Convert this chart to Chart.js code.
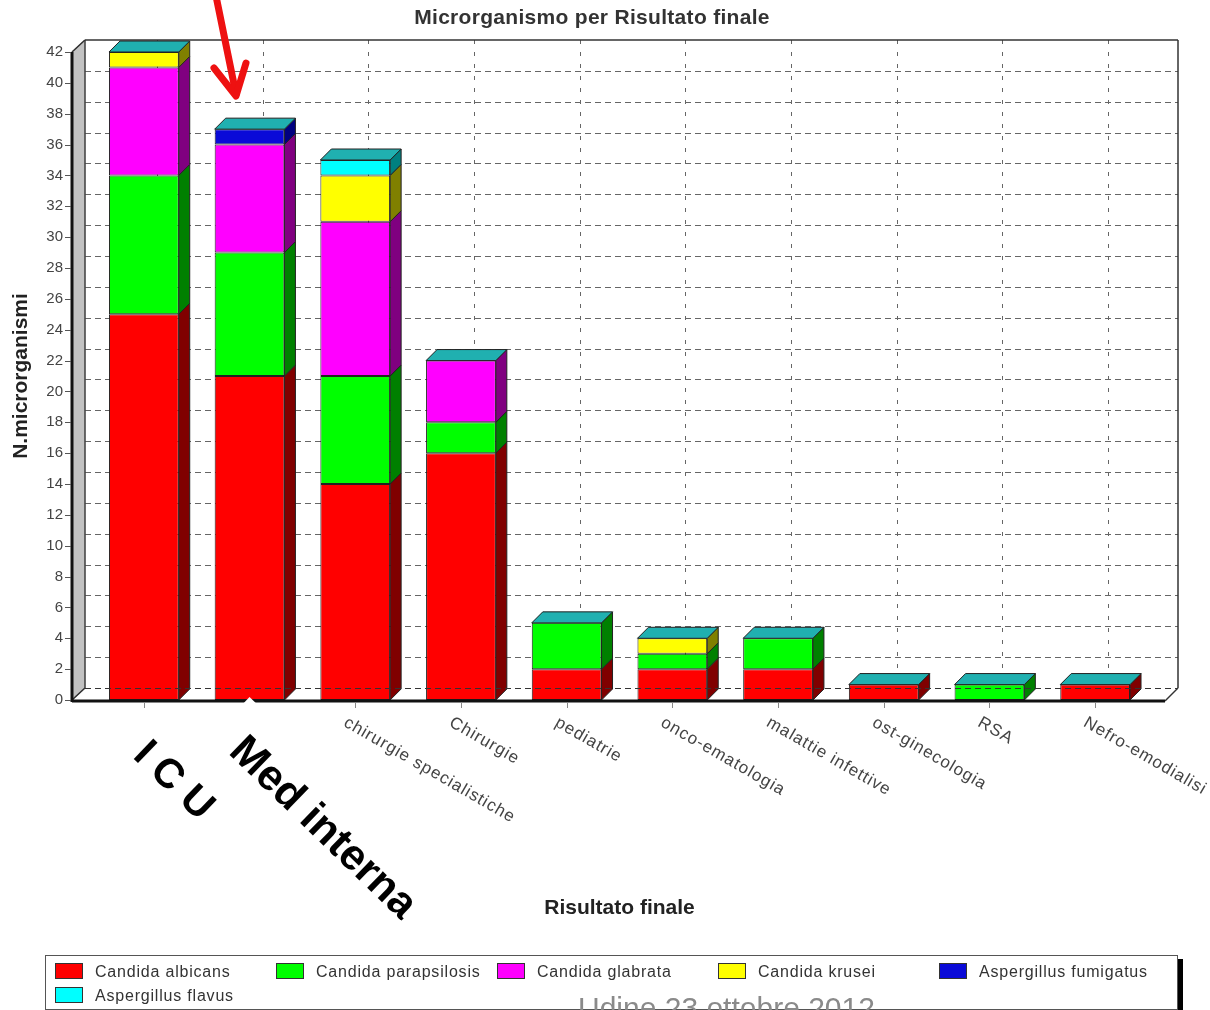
<!DOCTYPE html>
<html>
<head>
<meta charset="utf-8">
<script src="https://cdn.jsdelivr.net/npm/chart.js@4.4.0/dist/chart.umd.min.js"></script>
<style>
  html, body { margin: 0; padding: 0; background: #fff; }
  #wrap { position: relative; width: 1210px; height: 1010px; }
</style>
</head>
<body>
<div id="wrap"><canvas id="myChart"></canvas></div>
<script>
'use strict';

// dati
var reparti = ['I C U', 'Med interna', 'chirurgie specialistiche', 'Chirurgie', 'pediatrie',
  'onco-ematologia', 'malattie infettive', 'ost-ginecologia', 'RSA', 'Nefro-emodialisi'];
var candidaAlbicans      = [25, 21, 14, 16, 2, 2, 2, 1, 0, 1];
var candidaParapsilosis  = [9, 8, 7, 2, 3, 1, 2, 0, 1, 0];
var candidaGlabrata      = [7, 7, 10, 4, 0, 0, 0, 0, 0, 0];
var candidaKrusei        = [1, 0, 3, 0, 0, 1, 0, 0, 0, 0];
var aspergillusFumigatus = [0, 1, 0, 0, 0, 0, 0, 0, 0, 0];
var aspergillusFlavus    = [0, 0, 1, 0, 0, 0, 0, 0, 0, 0];
var serie = ['Candida albicans', 'Candida parapsilosis', 'Candida glabrata',
  'Candida krusei', 'Aspergillus fumigatus', 'Aspergillus flavus'];
var yMax = 42;
var yStep = 2;

var valori = [candidaAlbicans, candidaParapsilosis, candidaGlabrata,
  candidaKrusei, aspergillusFumigatus, aspergillusFlavus];
var colori = ['#ff0000', '#00ff00', '#ff00ff', '#ffff00', '#0a0ad8', '#00ffff'];
var lati   = ['#800000', '#008000', '#800080', '#808000', '#000080', '#008080'];
var coloreTop = '#20b0b0';

var FONT = "'Liberation Sans', Arial, sans-serif";
Chart.defaults.font.family = FONT;

var DX = 11, DY = 11;   // profondita barre
var WX = 13, WY = 12;   // profondita pareti

function poly(ctx, pts) {
  ctx.beginPath();
  ctx.moveTo(pts[0][0], pts[0][1]);
  for (var i = 1; i < pts.length; i++) ctx.lineTo(pts[i][0], pts[i][1]);
  ctx.closePath();
}

function line(ctx, x1, y1, x2, y2) {
  ctx.beginPath();
  ctx.moveTo(x1, y1);
  ctx.lineTo(x2, y2);
  ctx.stroke();
}

var scena3d = {
  id: 'scena3d',
  beforeDatasetsDraw: function(chart) {
    var ctx = chart.ctx, ca = chart.chartArea;
    var xs = chart.scales.x, ys = chart.scales.y;
    var L = ca.left - 19, R = ca.right + 17, T = ca.top, B = ca.bottom;
    ctx.save();

    // parete sinistra
    ctx.fillStyle = '#c2c2c2';
    poly(ctx, [[L, B], [L, T], [L + WX, T - WY], [L + WX, B - WY]]);
    ctx.fill();
    ctx.strokeStyle = '#555';
    ctx.lineWidth = 1;
    ctx.stroke();

    // griglia tratteggiata sulla parete di fondo
    ctx.strokeStyle = '#666';
    ctx.setLineDash([6, 4]);
    ys.ticks.forEach(function(t) {
      if (t.value === ys.max) return;
      var py = Math.round(ys.getPixelForValue(t.value) - WY) + 0.5;
      line(ctx, L + WX, py, R + WX, py);
    });
    ctx.setLineDash([4, 8]);
    reparti.forEach(function(r, i) {
      var px = Math.round(xs.getPixelForValue(i) + WX) + 0.5;
      line(ctx, px, T - WY, px, B - WY);
    });
    ctx.setLineDash([]);

    // bordo del fondo
    ctx.strokeStyle = '#333';
    ctx.lineWidth = 1.5;
    line(ctx, L + WX, T - WY, R + WX, T - WY);
    line(ctx, R + WX, T - WY, R + WX, B - WY);
    line(ctx, L, T, L + WX, T - WY);
    ctx.lineWidth = 1;
    line(ctx, L + WX, T - WY, L + WX, B - WY);
    ctx.restore();
  },
  afterDatasetsDraw: function(chart) {
    var ctx = chart.ctx, ca = chart.chartArea;
    var xs = chart.scales.x, ys = chart.scales.y;
    var L = ca.left - 19, R = ca.right + 17, T = ca.top, B = ca.bottom;
    ctx.save();
    ctx.lineWidth = 1;
    ctx.strokeStyle = '#222';

    // facce laterali
    chart.data.datasets.forEach(function(ds, di) {
      var meta = chart.getDatasetMeta(di);
      meta.data.forEach(function(el, i) {
        if (ds.data[i] == null) return;
        var p = el.getProps(['x', 'y', 'base', 'width'], true);
        var xr = p.x + p.width / 2;
        ctx.fillStyle = lati[di];
        poly(ctx, [[xr, p.y], [xr + DX, p.y - DY], [xr + DX, p.base - DY], [xr, p.base]]);
        ctx.fill();
        ctx.stroke();
      });
    });

    // facce superiori
    var w = chart.getDatasetMeta(0).data[0].width;
    reparti.forEach(function(r, i) {
      var tot = 0;
      valori.forEach(function(v) { tot += v[i]; });
      var yt = ys.getPixelForValue(tot);
      var xl = xs.getPixelForValue(i) - w / 2, xr = xl + w;
      ctx.fillStyle = coloreTop;
      poly(ctx, [[xl, yt], [xl + DX, yt - DY], [xr + DX, yt - DY], [xr, yt]]);
      ctx.fill();
      ctx.stroke();
    });

    // pavimento e assi frontali
    ctx.strokeStyle = '#333';
    ctx.setLineDash([6, 4]);
    line(ctx, L + WX, B - WY + 0.5, R + WX, B - WY + 0.5);
    ctx.setLineDash([]);
    ctx.lineWidth = 1.5;
    line(ctx, L, B, L + WX, B - WY);
    line(ctx, R, B + 1, R + WX, B - WY);
    ctx.strokeStyle = '#111';
    ctx.lineWidth = 3;
    line(ctx, L, T, L, B + 2);
    line(ctx, L, B + 1, R, B + 1);

    // tacche
    ctx.lineWidth = 1;
    ctx.strokeStyle = '#555';
    ys.ticks.forEach(function(t) {
      var py = Math.round(ys.getPixelForValue(t.value)) + 0.5;
      line(ctx, L - 7, py, L - 1, py);
    });
    ctx.strokeStyle = '#888';
    reparti.forEach(function(r, i) {
      var px = Math.round(xs.getPixelForValue(i)) + 0.5;
      line(ctx, px, B + 3, px, B + 8);
    });
    ctx.restore();
  },
  afterDraw: function(chart) {
    var ctx = chart.ctx, ca = chart.chartArea;
    var xs = chart.scales.x, B = ca.bottom;
    ctx.save();

    // titolo
    ctx.fillStyle = '#333';
    ctx.font = 'bold 21px ' + FONT;
    ctx.textAlign = 'center';
    ctx.textBaseline = 'middle';
    ctx.letterSpacing = '0.3px';
    ctx.fillText('Microrganismo per Risultato finale', 592, 18);

    // etichette categorie
    ctx.letterSpacing = '1px';
    ctx.font = '17px ' + FONT;
    ctx.fillStyle = '#444';
    ctx.textAlign = 'left';
    ctx.textBaseline = 'top';
    reparti.forEach(function(r, i) {
      if (i < 2) return;
      var px = xs.getPixelForValue(i);
      ctx.save();
      ctx.translate(px - 6, B + 14);
      ctx.rotate(30 * Math.PI / 180);
      ctx.fillText(r, 0, 0);
      ctx.restore();
    });

    // etichette grandi sovrapposte (ICU, Med interna)
    var ang = 44 * Math.PI / 180;
    var xMed = xs.getPixelForValue(1);
    ctx.save();
    ctx.translate(xMed, B - 3);
    ctx.rotate(ang);
    ctx.fillStyle = '#fff';
    ctx.fillRect(0, 0, 290, 75);
    ctx.restore();

    ctx.letterSpacing = '0px';
    ctx.fillStyle = '#000';
    ctx.textBaseline = 'alphabetic';
    ctx.font = 'bold 41px ' + FONT;
    ctx.save();
    ctx.translate(xs.getPixelForValue(0) - 12, B + 57);
    ctx.rotate(ang);
    ctx.fillText(reparti[0], 0, 0);
    ctx.restore();
    ctx.font = 'bold 43px ' + FONT;
    ctx.save();
    ctx.translate(xMed - 22, B + 53);
    ctx.rotate(ang);
    ctx.fillText(reparti[1], 0, 0);
    ctx.restore();

    // legenda
    ctx.strokeStyle = '#555';
    ctx.lineWidth = 1;
    ctx.strokeRect(45.5, 955.5, 1132, 54);
    ctx.fillStyle = '#000';
    ctx.fillRect(1178, 959, 5, 51);
    ctx.font = '16px ' + FONT;
    ctx.letterSpacing = '0.8px';
    serie.forEach(function(s, i) {
      var col = i % 5, row = Math.floor(i / 5);
      var sx = 55 + col * 221, sy = 963 + row * 24;
      ctx.fillStyle = colori[i];
      ctx.fillRect(sx, sy, 27, 15);
      ctx.strokeStyle = '#333';
      ctx.strokeRect(sx + 0.5, sy + 0.5, 27, 15);
      ctx.fillStyle = '#333';
      ctx.fillText(s, sx + 40, sy + 14);
    });

    // freccia rossa
    ctx.strokeStyle = '#ee1111';
    ctx.lineWidth = 7;
    ctx.lineCap = 'round';
    ctx.lineJoin = 'round';
    line(ctx, 216, -4, 236, 94);
    ctx.beginPath();
    ctx.moveTo(214, 68);
    ctx.lineTo(236, 96);
    ctx.lineTo(246, 63);
    ctx.stroke();

    // piede della diapositiva
    ctx.letterSpacing = '0px';
    ctx.font = '30px ' + FONT;
    ctx.fillStyle = '#8a8a8a';
    ctx.fillText('Udine 23 ottobre 2012', 578, 1018);
    ctx.restore();
  }
};

var datasets = serie.map(function(nome, i) {
  return {
    label: nome,
    data: valori[i].map(function(v) { return v === 0 ? null : v; }),
    backgroundColor: colori[i],
    borderColor: '#222',
    borderWidth: 1,
    borderSkipped: false,
    categoryPercentage: 1,
    barPercentage: 0.66
  };
});

var ctx = document.getElementById('myChart');
var myChart = new Chart(ctx, {
  type: 'bar',
  data: { labels: reparti, datasets: datasets },
  options: {
    responsive: true,
    maintainAspectRatio: false,
    animation: false,
    layout: { padding: { top: 52, right: 62, left: 0, bottom: 0 } },
    plugins: {
      legend: { display: false },
      title: { display: false },
      tooltip: { enabled: false }
    },
    scales: {
      x: {
        stacked: true,
        grid: { display: false, drawTicks: false },
        border: { display: false },
        ticks: { display: false },
        title: {
          display: true,
          text: 'Risultato finale',
          color: '#222',
          font: { size: 21, weight: 'bold' },
          padding: { top: 0, bottom: 89 }
        },
        afterFit: function(s) { s.height = 310; }
      },
      y: {
        stacked: true,
        min: 0,
        max: yMax,
        grid: { display: false, drawTicks: false },
        border: { display: false },
        ticks: { stepSize: yStep, padding: 28, color: '#444', font: { size: 15 } },
        title: {
          display: true,
          text: 'N.microrganismi',
          color: '#222',
          font: { size: 21, weight: 'bold' },
          padding: { top: 9, bottom: 0 }
        },
        afterFit: function(s) { s.width = 91; }
      }
    }
  },
  plugins: [scena3d]
});
</script>
</body>
</html>
